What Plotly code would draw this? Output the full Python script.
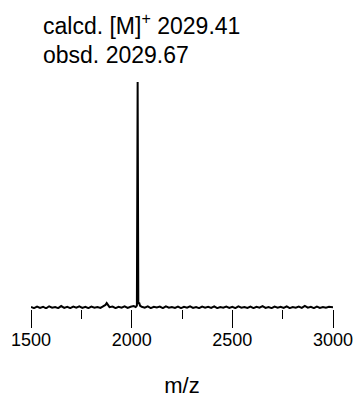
import plotly.graph_objects as go

# m/z values and relative intensities
mz = [1500, 1515, 1530, 1545, 1560, 1575, 1590, 1605, 1620, 1635, 1650, 1665, 1680, 1695,
      1710, 1725, 1740, 1755, 1770, 1785, 1800, 1815, 1830, 1845, 1860, 1870, 1876, 1882,
      1890, 1905, 1920, 1935, 1950, 1965, 1980, 1995, 2010, 2020, 2026, 2029.67, 2033,
      2037, 2042, 2050, 2065, 2080, 2095, 2110, 2125, 2140, 2155, 2170, 2185, 2200, 2215,
      2230, 2245, 2260, 2275, 2290, 2305, 2320, 2335, 2350, 2365, 2380, 2395, 2410, 2425,
      2440, 2455, 2470, 2485, 2500, 2515, 2530, 2545, 2560, 2575, 2590, 2605, 2620, 2635,
      2650, 2665, 2680, 2695, 2710, 2725, 2740, 2755, 2770, 2785, 2800, 2815, 2830, 2845,
      2860, 2875, 2890, 2905, 2920, 2935, 2950, 2965, 2980, 3000]
intensity = [0.9, 0.4, 1.1, 0.5, 1.0, 0.3, 1.2, 0.6, 0.9, 0.4, 1.3, 0.5, 1.0, 0.4,
             1.1, 0.6, 1.2, 0.5, 1.0, 0.4, 1.1, 0.6, 0.9, 0.5, 1.3, 1.8, 2.6, 1.7,
             0.8, 1.1, 0.4, 1.0, 0.6, 1.2, 0.5, 1.0, 1.3, 0.9, 1.5, 100.0, 2.2,
             2.8, 1.4, 1.0, 0.6, 1.2, 0.4, 1.0, 0.7, 1.1, 0.4, 1.2, 0.6, 0.9, 0.5,
             1.1, 0.4, 1.0, 0.6, 1.2, 0.5, 0.9, 0.4, 1.1, 0.6, 1.0, 0.5, 1.2, 0.4,
             0.9, 0.6, 1.1, 0.5, 1.0, 0.4, 1.2, 0.6, 0.9, 0.5, 1.1, 0.4, 1.0, 0.6,
             1.3, 0.5, 0.9, 0.4, 1.1, 0.6, 1.0, 0.5, 1.2, 0.4, 0.9, 0.6, 1.1, 0.5,
             1.4, 0.6, 1.0, 0.4, 1.1, 0.5, 0.9, 0.6, 1.0, 0.8]

tick_vals = [1500, 2000, 2500, 3000]
tick_text = ["1500", "2000", "2500", "3000"]

calcd_label = "calcd. [M]<sup>+</sup> 2029.41"
obsd_label = "obsd. 2029.67"

font = "Liberation Sans, Arial, Helvetica, sans-serif"

TOP, BOTTOM = 82, 309
PLOT_H = BOTTOM - TOP

fig = go.Figure()
fig.add_trace(go.Scatter(x=mz, y=intensity, mode="lines",
                         line=dict(color="black", width=2), hoverinfo="skip"))

fig.update_layout(
    width=358, height=398,
    margin=dict(l=31, r=25, t=TOP, b=398 - BOTTOM, pad=0),
    paper_bgcolor="white", plot_bgcolor="white",
    showlegend=False,
    font=dict(family=font, color="black"),
    xaxis=dict(
        automargin=False,
        range=[1500, 3000], showgrid=False, zeroline=False, showline=False,
        tickmode="array", tickvals=tick_vals, ticktext=tick_text,
        ticks="outside", ticklen=18, tickwidth=1.3, tickcolor="black",
        ticklabelstandoff=-4,
        tickfont=dict(size=18, family=font, color="black"),
        minor=dict(dtick=250, tick0=1500, ticks="outside", ticklen=9,
                   tickwidth=1.3, tickcolor="black", showgrid=False),
        title=dict(text="m/z", font=dict(size=22, family=font, color="black"), standoff=32),
    ),
    yaxis=dict(range=[0, 100], visible=False, automargin=False),
)

fig.add_annotation(text=calcd_label, xref="paper", yref="paper",
                   x=(41 - 31) / 302, y=(BOTTOM - 24) / PLOT_H, xanchor="left", yanchor="middle",
                   showarrow=False, font=dict(size=23, family=font, color="black"))
fig.add_annotation(text=obsd_label, xref="paper", yref="paper",
                   x=(41 - 31) / 302, y=(BOTTOM - 55) / PLOT_H, xanchor="left", yanchor="middle",
                   showarrow=False, font=dict(size=23, family=font, color="black"))

fig.write_html("out.html")
